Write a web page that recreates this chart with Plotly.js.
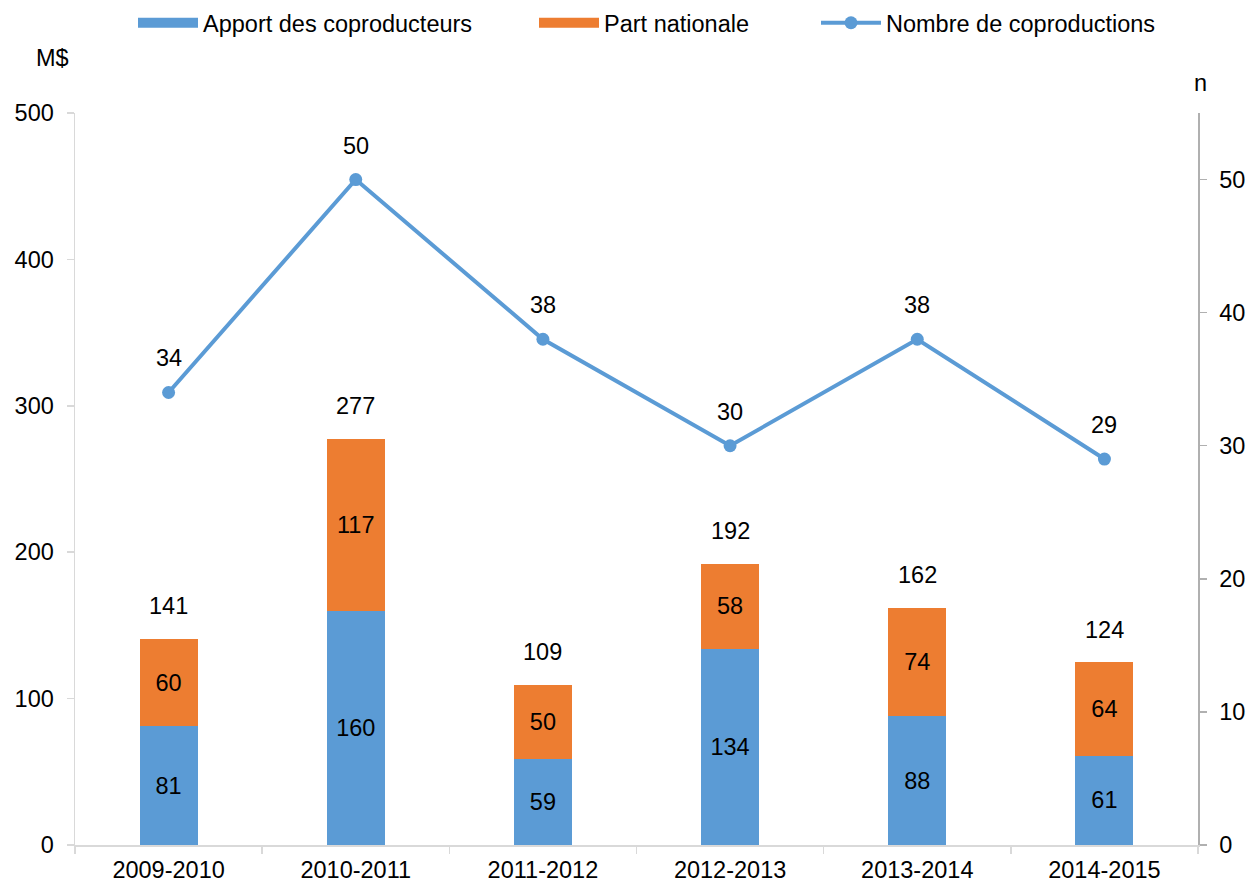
<!DOCTYPE html>
<html><head><meta charset="utf-8">
<script src="https://cdn.plot.ly/plotly-3.0.1.min.js"></script>
<style>html,body{margin:0;padding:0;background:#fff;}#chart{width:1248px;height:884px;}</style>
</head><body><div id="chart"></div>
<script>
const categories = ['2009-2010','2010-2011','2011-2012','2012-2013','2013-2014','2014-2015'];
const apport = [81,160,59,134,88,61];
const partNationale = [60,117,50,58,74,64];
const totals = [141,277,109,192,162,124];
const nombre = [34,50,38,30,38,29];

const blue = '#5b9bd5', orange = '#ed7d31';
const font = {family:'Liberation Sans, Arial, sans-serif', size:23.5, color:'#000'};

const traces = [
  {type:'bar', name:'Apport des coproducteurs', x:categories, y:apport, marker:{color:blue},
   text:apport.map(String), textposition:'inside', insidetextanchor:'middle',
   textfont:{...font}, hoverinfo:'none', showlegend:false},
  {type:'bar', name:'Part nationale', x:categories, y:partNationale, marker:{color:orange},
   text:partNationale.map(String), textposition:'inside', insidetextanchor:'middle',
   textfont:{...font}, hoverinfo:'none', showlegend:false},
  {type:'scatter', mode:'lines+markers', name:'Nombre de coproductions', x:categories, y:nombre,
   yaxis:'y2', line:{color:blue, width:4}, marker:{color:blue, size:13}, legend:'legend3'},
  // legend-only entries for the bar series (wide rectangle swatches)
  {type:'scatter', mode:'lines', name:'Apport des coproducteurs', x:[null], y:[null], line:{color:blue, width:18}, legend:'legend'},
  {type:'scatter', mode:'lines', name:'Part nationale', x:[null], y:[null], line:{color:orange, width:18}, legend:'legend2'}
];

const annotations = [];
categories.forEach((c,i)=>{
  annotations.push({x:c, y:totals[i], xref:'x', yref:'y', text:String(totals[i]), showarrow:false,
    yanchor:'bottom', yshift:18, font:{...font}});
  annotations.push({x:c, y:nombre[i], xref:'x', yref:'y2', text:String(nombre[i]), showarrow:false,
    yanchor:'bottom', yshift:19, font:{...font}});
});
annotations.push({text:'M$', xref:'paper', yref:'paper', x:(52-75)/1123, y:(845-58)/732, xanchor:'center', yanchor:'middle', showarrow:false, font:{...font}});
annotations.push({text:'n', xref:'paper', yref:'paper', x:(1200-75)/1123, y:(845-83)/732, xanchor:'center', yanchor:'middle', showarrow:false, font:{...font}});

const legBase = {orientation:'h', xref:'container', yref:'container', yanchor:'middle', xanchor:'left', y:1-23/884, font:{...font}, bgcolor:'rgba(0,0,0,0)', itemwidth:60, borderwidth:0};

const layout = {
  width:1248, height:884,
  margin:{l:75, r:50, t:113, b:39},
  paper_bgcolor:'#fff', plot_bgcolor:'#fff',
  font:font,
  barmode:'stack', bargap:0.69,
  showlegend:true,
  legend:{...legBase, x:133/1248},
  legend2:{...legBase, x:534/1248},
  legend3:{...legBase, x:816/1248},
  xaxis:{type:'category', showgrid:false, zeroline:false, showline:true, linecolor:'#d9d9d9', linewidth:1.5,
    ticks:'outside', tickson:'boundaries', ticklen:7, tickcolor:'#d9d9d9', tickwidth:1.5, tickfont:{...font}, ticklabelstandoff:3},
  yaxis:{range:[0,500], dtick:100, showgrid:false, zeroline:false, showline:true, linecolor:'#d9d9d9', linewidth:1.5,
    ticks:'outside', ticklen:7, tickcolor:'#d9d9d9', tickwidth:1.5, tickfont:{...font}, ticklabelstandoff:8},
  yaxis2:{range:[0,55], tickvals:[0,10,20,30,40,50], overlaying:'y', side:'right', showgrid:false, zeroline:false,
    showline:true, linecolor:'#b0b0b0', linewidth:1.5, ticks:'outside', ticklen:7, tickcolor:'#b0b0b0', tickwidth:1.5,
    tickfont:{...font}, ticklabelstandoff:8},
  annotations:annotations
};

Plotly.newPlot('chart', traces, layout, {displayModeBar:false, staticPlot:true});
</script></body></html>
